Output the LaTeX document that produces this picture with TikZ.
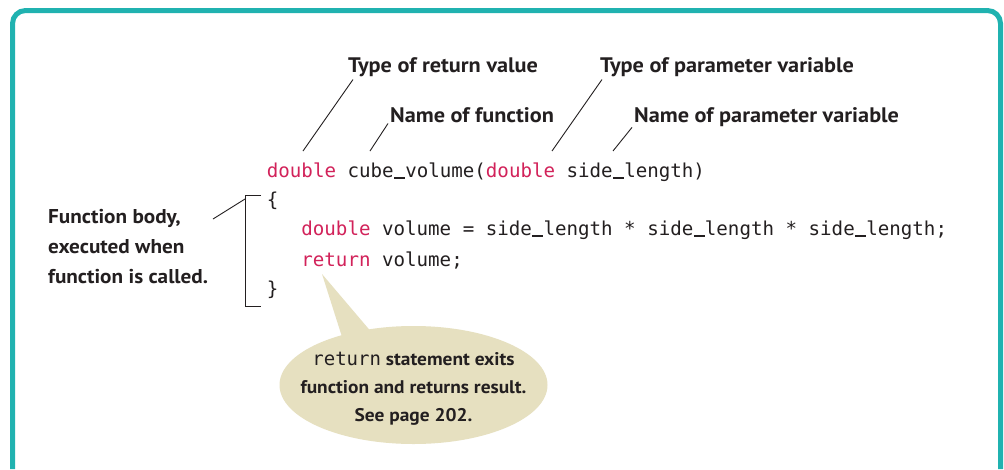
\documentclass[tikz,border=0pt]{standalone}
\usepackage{fontspec}
\usetikzlibrary{shapes.geometric}
\newfontfamily\lblfont[FakeStretch=1.06]{PT Sans}
\newfontfamily\codefont{DejaVu Sans Mono}
\definecolor{frameteal}{RGB}{32,178,176}
\definecolor{kwred}{RGB}{210,34,90}
\definecolor{codeblack}{RGB}{35,31,32}
\definecolor{balloonfill}{RGB}{230,224,192}
\newcommand{\kw}[1]{\textcolor{kwred}{#1}}
\newcommand{\us}{\makebox[0.602em][c]{\rule[-0.08em]{0.56em}{0.065em}}}
\begin{document}
\begin{tikzpicture}[x=1pt,y=-1pt,
  lbl/.style={anchor=base west,inner sep=0pt,font=\lblfont\bfseries\fontsize{21}{30}\selectfont,text=codeblack},
  code/.style={anchor=base west,inner sep=0pt,font=\codefont\fontsize{19.15}{19}\selectfont,text=codeblack},
  leader/.style={draw=codeblack,line width=0.9pt},
  frame/.style={draw=frameteal,line width=5pt,rounded corners=13pt},
  balloon/.style={fill=balloonfill,draw=none}]
\useasboundingbox (0,0) rectangle (1004,469);
\fill[white] (0,0) rectangle (1004,469);
% frame
\draw[frame] (12.5,469) -- (12.5,10.5) -- (1000.5,10.5) -- (1000.5,469);
% code
\node[code] (l1) at (266.7,177) {\kw{double} cube\us volume(\kw{double} side\us length)};
\node[code] (l2) at (266.7,206) {\{};
\node[code] (l3) at (301.2,235) {\kw{double} volume = side\us length * side\us length * side\us length;};
\node[code] (l4) at (301.2,266.5) {\kw{return} volume;};
\node[code] (l5) at (266.7,295) {\}};
% labels
\node[lbl] (trv) at (348,72) {Type of return value};
\node[lbl] (tpv) at (600,72) {Type of parameter variable};
\node[lbl] (nf) at (390,122) {Name of function};
\node[lbl] (npv) at (634,122) {Name of parameter variable};
\coordinate (e1) at (303,151);
\coordinate (e2) at (370,151);
\coordinate (e3) at (552,151);
\coordinate (e4) at (613,151);
\draw[leader] ([xshift=5pt,yshift=-3pt]trv.south west) -- (e1);
\draw[leader] ([xshift=-2pt,yshift=-1pt]nf.south west) -- (e2);
\draw[leader] ([xshift=2pt,yshift=-3pt]tpv.south west) -- (e3);
\draw[leader] ([xshift=-2pt,yshift=-1pt]npv.south west) -- (e4);
% function body
\node[lbl,anchor=north west,align=left,font=\lblfont\bfseries\fontsize{20}{30}\selectfont] (fb) at (48,209) {Function body,\\executed when\\function is called.};
\coordinate (bt) at (261,195);
\coordinate (bb) at (261,306);
\coordinate (bk) at (245,199);
\coordinate (fbl) at (213,219);
\draw[leader] (bt) -- (245,195) -- (245,306) -- (bb);
\draw[leader] (fbl) -- (bk);
% balloon
\coordinate (tip) at (322,274);
\node[balloon,ellipse,minimum width=268pt,minimum height=118pt,inner sep=0pt] (bal) at (413.5,385) {};
\fill[balloonfill] (tip) -- (343,340) -- (373,334) -- cycle;
\node[lbl,anchor=center,align=center,font=\lblfont\bfseries\fontsize{18.3}{28}\selectfont] (btx) at (413.5,389)
  {{\codefont\mdseries\fontsize{19}{28}\selectfont return} statement exits\\function and returns result.\\See page 202.};
\end{tikzpicture}
\end{document}
